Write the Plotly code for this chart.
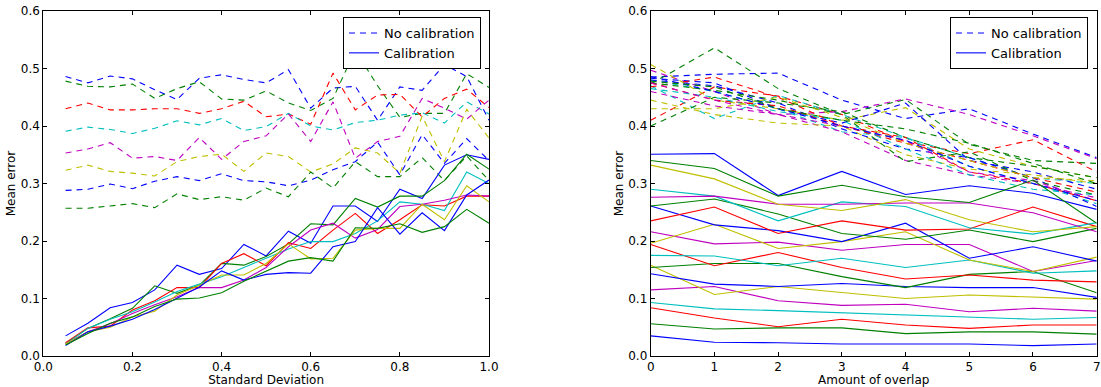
import plotly.graph_objects as go

# ---------------- data ----------------
std_dev = [0.05, 0.10, 0.15, 0.20, 0.25, 0.30, 0.35, 0.40, 0.45, 0.50,
           0.55, 0.60, 0.65, 0.70, 0.75, 0.80, 0.85, 0.90, 0.95, 1.00]

left_nocal = [
    [0.486, 0.475, 0.487, 0.482, 0.463, 0.446, 0.483, 0.489, 0.481, 0.475, 0.498, 0.431, 0.466, 0.469, 0.410, 0.468, 0.462, 0.507, 0.486, 0.410],
    [0.478, 0.469, 0.468, 0.473, 0.448, 0.465, 0.477, 0.447, 0.445, 0.461, 0.440, 0.427, 0.448, 0.532, 0.470, 0.415, 0.422, 0.422, 0.491, 0.467],
    [0.430, 0.440, 0.428, 0.428, 0.430, 0.430, 0.422, 0.430, 0.443, 0.416, 0.421, 0.403, 0.492, 0.428, 0.454, 0.455, 0.416, 0.448, 0.464, 0.432],
    [0.391, 0.398, 0.394, 0.387, 0.396, 0.409, 0.402, 0.413, 0.392, 0.399, 0.422, 0.400, 0.393, 0.406, 0.410, 0.419, 0.423, 0.405, 0.442, 0.421],
    [0.353, 0.360, 0.371, 0.344, 0.347, 0.340, 0.380, 0.342, 0.373, 0.383, 0.421, 0.373, 0.442, 0.344, 0.373, 0.382, 0.448, 0.431, 0.412, 0.445],
    [0.323, 0.332, 0.321, 0.318, 0.313, 0.338, 0.347, 0.351, 0.321, 0.353, 0.347, 0.320, 0.334, 0.362, 0.353, 0.318, 0.417, 0.338, 0.429, 0.379],
    [0.288, 0.290, 0.299, 0.291, 0.304, 0.312, 0.305, 0.317, 0.305, 0.303, 0.296, 0.306, 0.324, 0.338, 0.372, 0.315, 0.385, 0.335, 0.378, 0.340],
    [0.257, 0.257, 0.261, 0.265, 0.258, 0.282, 0.272, 0.277, 0.271, 0.292, 0.277, 0.320, 0.292, 0.338, 0.312, 0.312, 0.345, 0.305, 0.348, 0.305],
]

left_cal = [
    [0.035, 0.057, 0.084, 0.093, 0.115, 0.158, 0.142, 0.152, 0.194, 0.174, 0.217, 0.196, 0.261, 0.261, 0.234, 0.290, 0.274, 0.332, 0.350, 0.342],
    [0.022, 0.048, 0.065, 0.083, 0.122, 0.109, 0.123, 0.161, 0.158, 0.173, 0.195, 0.230, 0.228, 0.274, 0.259, 0.278, 0.278, 0.305, 0.351, 0.325],
    [0.023, 0.049, 0.052, 0.080, 0.096, 0.119, 0.119, 0.161, 0.178, 0.157, 0.197, 0.187, 0.219, 0.248, 0.213, 0.237, 0.263, 0.261, 0.278, 0.278],
    [0.021, 0.048, 0.064, 0.077, 0.094, 0.112, 0.125, 0.138, 0.154, 0.170, 0.186, 0.199, 0.199, 0.213, 0.235, 0.268, 0.264, 0.253, 0.320, 0.300],
    [0.021, 0.042, 0.056, 0.074, 0.089, 0.103, 0.119, 0.119, 0.132, 0.154, 0.190, 0.219, 0.231, 0.205, 0.220, 0.260, 0.264, 0.271, 0.280, 0.278],
    [0.021, 0.042, 0.050, 0.068, 0.078, 0.106, 0.123, 0.141, 0.141, 0.161, 0.195, 0.169, 0.170, 0.219, 0.222, 0.222, 0.264, 0.237, 0.296, 0.268],
    [0.018, 0.042, 0.052, 0.064, 0.081, 0.100, 0.120, 0.148, 0.132, 0.142, 0.145, 0.144, 0.190, 0.199, 0.258, 0.212, 0.249, 0.218, 0.280, 0.306],
    [0.019, 0.039, 0.057, 0.068, 0.086, 0.099, 0.101, 0.110, 0.130, 0.148, 0.165, 0.171, 0.165, 0.223, 0.222, 0.230, 0.215, 0.225, 0.255, 0.231],
]

overlap = [0, 1, 2, 3, 4, 5, 6, 7]

right_nocal = [
    [0.485, 0.490, 0.492, 0.445, 0.413, 0.430, 0.386, 0.345],   # b
    [0.473, 0.536, 0.465, 0.420, 0.446, 0.368, 0.340, 0.335],   # g
    [0.410, 0.468, 0.452, 0.420, 0.372, 0.352, 0.376, 0.320],   # r
    [0.470, 0.413, 0.453, 0.420, 0.380, 0.345, 0.310, 0.300],   # c
    [0.497, 0.460, 0.420, 0.425, 0.447, 0.420, 0.383, 0.343],   # m
    [0.507, 0.445, 0.430, 0.410, 0.432, 0.360, 0.330, 0.310],   # y
    [0.483, 0.475, 0.430, 0.405, 0.440, 0.340, 0.320, 0.290],   # b
    [0.400, 0.450, 0.440, 0.425, 0.380, 0.345, 0.330, 0.310],   # g
    [0.468, 0.485, 0.450, 0.400, 0.380, 0.320, 0.300, 0.270],   # r
    [0.480, 0.460, 0.430, 0.390, 0.380, 0.330, 0.300, 0.265],   # c
    [0.460, 0.435, 0.420, 0.390, 0.340, 0.315, 0.300, 0.275],   # m
    [0.445, 0.420, 0.405, 0.400, 0.350, 0.325, 0.315, 0.300],   # y
    [0.480, 0.470, 0.440, 0.395, 0.360, 0.345, 0.310, 0.260],   # b
    [0.475, 0.462, 0.445, 0.420, 0.338, 0.355, 0.305, 0.280],   # g
    [0.475, 0.445, 0.435, 0.400, 0.370, 0.340, 0.310, 0.285],   # r
    [0.465, 0.450, 0.425, 0.410, 0.360, 0.315, 0.290, 0.280],   # c
    [0.475, 0.445, 0.420, 0.400, 0.375, 0.320, 0.305, 0.270],   # m
    [0.430, 0.430, 0.450, 0.415, 0.370, 0.340, 0.310, 0.305],   # y
    [0.486, 0.460, 0.430, 0.400, 0.375, 0.330, 0.300, 0.270],   # b
    [0.478, 0.468, 0.430, 0.410, 0.395, 0.370, 0.335, 0.300],   # g
]

right_cal = [
    [0.035, 0.024, 0.023, 0.021, 0.021, 0.021, 0.018, 0.021],
    [0.056, 0.047, 0.049, 0.049, 0.039, 0.042, 0.042, 0.038],
    [0.084, 0.066, 0.051, 0.064, 0.054, 0.048, 0.054, 0.054],
    [0.093, 0.082, 0.079, 0.075, 0.072, 0.067, 0.064, 0.067],
    [0.115, 0.121, 0.096, 0.088, 0.090, 0.077, 0.083, 0.078],
    [0.158, 0.107, 0.121, 0.110, 0.100, 0.106, 0.102, 0.099],
    [0.143, 0.125, 0.121, 0.126, 0.121, 0.119, 0.119, 0.102],
    [0.154, 0.161, 0.161, 0.138, 0.119, 0.142, 0.147, 0.110],
    [0.194, 0.157, 0.180, 0.154, 0.134, 0.141, 0.132, 0.129],
    [0.175, 0.174, 0.157, 0.170, 0.154, 0.167, 0.144, 0.148],
    [0.216, 0.195, 0.198, 0.184, 0.194, 0.194, 0.147, 0.166],
    [0.196, 0.229, 0.187, 0.199, 0.216, 0.167, 0.147, 0.172],
    [0.261, 0.228, 0.218, 0.199, 0.231, 0.170, 0.190, 0.165],
    [0.261, 0.273, 0.247, 0.213, 0.203, 0.219, 0.199, 0.222],
    [0.235, 0.259, 0.213, 0.235, 0.219, 0.221, 0.259, 0.225],
    [0.290, 0.278, 0.235, 0.268, 0.260, 0.223, 0.212, 0.232],
    [0.276, 0.278, 0.264, 0.264, 0.266, 0.266, 0.249, 0.216],
    [0.332, 0.308, 0.264, 0.253, 0.272, 0.237, 0.216, 0.225],
    [0.351, 0.352, 0.279, 0.321, 0.281, 0.296, 0.283, 0.255],
    [0.340, 0.326, 0.278, 0.297, 0.277, 0.267, 0.306, 0.231],
]

colors = ['#0000ff', '#008000', '#ff0000', '#00bfbf', '#bf00bf', '#bfbf00']
legend_labels = ['No calibration', 'Calibration']

DASH = '6px,5px'
FONT = 'DejaVu Sans'
W, H = 1101, 387

def px(x):   # screen x -> paper fraction
    return x / W

def py(y):   # screen y -> paper fraction (from bottom)
    return 1 - y / H

fig = go.Figure()

def add_series(xs, ys_list, dash, xa, ya):
    for i, ys in enumerate(ys_list):
        fig.add_trace(go.Scatter(
            x=xs, y=ys, mode='lines', xaxis=xa, yaxis=ya,
            line=dict(color=colors[i % len(colors)], width=1.1, dash=dash),
            showlegend=False, hoverinfo='skip'))

add_series(std_dev, left_nocal, DASH, 'x', 'y')
add_series(std_dev, left_cal, 'solid', 'x', 'y')
add_series(overlap, right_nocal, DASH, 'x2', 'y2')
add_series(overlap, right_cal, 'solid', 'x2', 'y2')

# legend entries
for lg, xa, ya in [('legend', 'x', 'y'), ('legend2', 'x2', 'y2')]:
    for lab, dash in zip(legend_labels, [DASH, 'solid']):
        fig.add_trace(go.Scatter(
            x=[None], y=[None], mode='lines', name=lab, xaxis=xa, yaxis=ya,
            line=dict(color=colors[0], width=1.1, dash=dash),
            legend=lg, showlegend=True))

axis_common = dict(
    showline=True, linecolor='black', linewidth=1, mirror='allticks',
    ticks='inside', ticklen=4, tickwidth=1, tickcolor='black',
    showgrid=False, zeroline=False, automargin=False,
    ticklabeloverflow='allow',
    tickfont=dict(family=FONT, size=12, color='black'),
)

y_dom = [py(356), py(11)]

leg_common = dict(yanchor='top', xanchor='right',
                  bordercolor='black', borderwidth=1, bgcolor='white',
                  font=dict(family=FONT, size=13, color='black'),
                  tracegroupgap=0, itemwidth=30)

fig.update_layout(
    width=W, height=H,
    margin=dict(l=0, r=0, t=0, b=0, autoexpand=False),
    paper_bgcolor='white', plot_bgcolor='white',
    font=dict(family=FONT, size=12, color='black'),
    xaxis=dict(domain=[px(43.3), px(489)], range=[0, 1], dtick=0.2, tickformat='.1f',
               title=dict(text='Standard Deviation', font=dict(size=12), standoff=6),
               anchor='y', **axis_common),
    yaxis=dict(domain=y_dom, range=[0, 0.6], dtick=0.1, tickformat='.1f',
               title=dict(text='Mean error', font=dict(size=12), standoff=2),
               anchor='x', **axis_common),
    xaxis2=dict(domain=[px(650.7), px(1096.7)], range=[0, 7], dtick=1,
                title=dict(text='Amount of overlap', font=dict(size=12), standoff=6),
                anchor='y2', **axis_common),
    yaxis2=dict(domain=y_dom, range=[0, 0.6], dtick=0.1, tickformat='.1f',
                title=dict(text='Mean error', font=dict(size=12), standoff=2),
                anchor='x2', **axis_common),
    legend=dict(x=px(481), y=py(17), **leg_common),
    legend2=dict(x=px(1088), y=py(17), **leg_common),
)

fig.write_html('out.html',
               config={'displayModeBar': False},
               post_script="document.body.style.margin='0';document.body.style.overflow='hidden';")
